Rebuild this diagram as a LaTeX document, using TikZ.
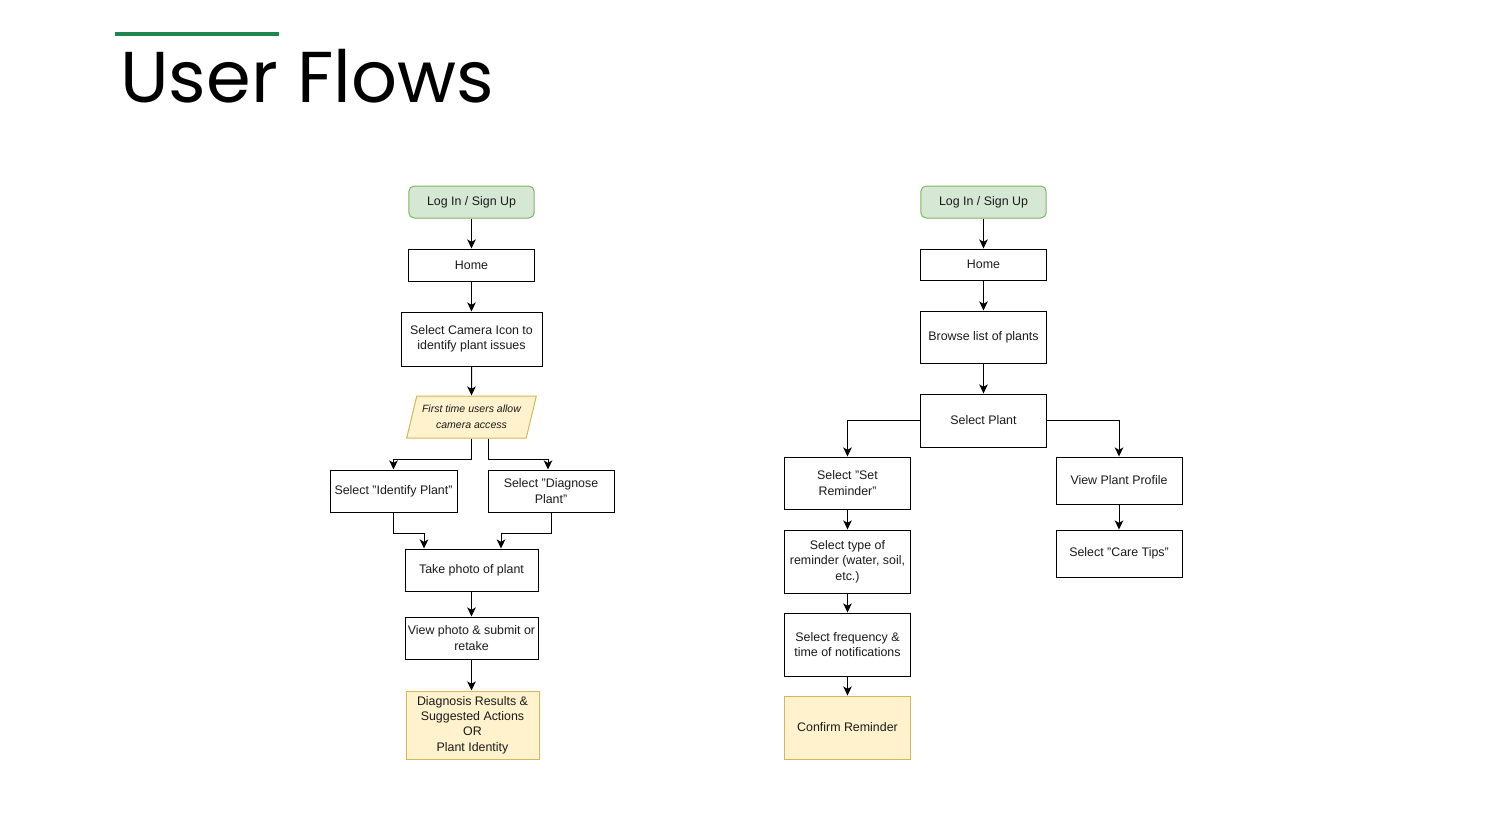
\documentclass[tikz,border=0pt]{standalone}
\usepackage{fontspec}
\setsansfont{Liberation Sans}
\newfontfamily\titlefont{Poppins}
\usetikzlibrary{arrows.meta,positioning,calc,shapes.geometric}
\definecolor{ufgreen}{HTML}{1E874F}
\definecolor{ufstartfill}{HTML}{D5E8D4}
\definecolor{ufstartdraw}{HTML}{82B366}
\definecolor{ufendfill}{HTML}{FFF2CC}
\definecolor{ufenddraw}{HTML}{D6B656}
\definecolor{uftext}{HTML}{1A1A1A}

\begin{document}
\begin{tikzpicture}[
    x=0.75pt, y=-0.75pt,
    font=\sffamily\fontsize{9.3pt}{11.6pt}\selectfont,
    >=Stealth,
    stepbox/.style={
        draw=black,
        fill=white,
        text=uftext,
        minimum width=94pt,
        minimum height=24pt,
        inner sep=1pt,
        align=center,
        line width=0.75pt
    },
    start/.style={
        stepbox,
        draw=ufstartdraw,
        fill=ufstartfill,
        rounded corners=4pt
    },
    finish/.style={
        stepbox,
        draw=ufenddraw,
        fill=ufendfill
    },
    permission/.style={
        trapezium,
        trapezium left angle=69,
        trapezium right angle=111,
        trapezium stretches=true,
        draw=ufenddraw,
        fill=ufendfill,
        text=uftext,
        minimum width=98pt,
        minimum height=31.5pt,
        inner sep=0pt,
        align=center,
        line width=0.75pt,
        font=\sffamily\itshape\fontsize{7.9pt}{12pt}\selectfont
    },
    flow/.style={-{Stealth[length=6.8pt,width=6.4pt,inset=1.8pt]},line width=0.75pt,black}
]
\useasboundingbox (0,0) rectangle (1512,833);

% Title
\draw[ufgreen,line width=2.4pt] (115,34) -- (279,34);
\node[anchor=base west,inner sep=0pt,font=\titlefont\fontsize{54pt}{60pt}\selectfont]
    (title) at (120,102) {User Flows};

% Left flow: identify or diagnose a plant
\node[start] (loginL) at (471.5,202) {Log In / Sign Up};
\node[stepbox] (homeL) at (471.5,265) {Home};
\node[stepbox,minimum width=105.75pt,minimum height=40.5pt] (camera) at (471.5,339)
    {Select Camera Icon to\\identify plant issues};
\node[permission] (access) at (471.5,417) {First time users allow\\camera access};
\node[stepbox,minimum width=95.25pt,minimum height=31.5pt] (identify) at (393.5,491)
    {Select "Identify Plant"};
\node[stepbox,minimum width=94.5pt,minimum height=31.5pt] (diagnose) at (551,491)
    {Select "Diagnose\\Plant"};
\node[stepbox,minimum width=99.75pt,minimum height=31.5pt] (photo) at (471.5,570)
    {Take photo of plant};
\node[stepbox,minimum width=99.75pt,minimum height=31.5pt] (review) at (471.5,638)
    {View photo \& submit or\\retake};
\node[finish,minimum width=99.75pt,minimum height=51pt] (result) at (472.5,725)
    {Diagnosis Results \&\\Suggested Actions\\OR\\Plant Identity};

\draw[flow] (loginL) -- (homeL);
\draw[flow] (homeL) -- (camera);
\draw[flow] (camera) -- (access);
\draw[flow] (access.south) -- ++(0,21) -| (identify.north);
\draw[flow] ($(access.south)+(17,0)$) -- ++(0,21) -| ($(diagnose.north)+(-3,0)$);
\draw[flow] (identify.south) -- ++(0,21) -| ($(photo.north)+(-47.5,0)$);
\draw[flow] (diagnose.south) -- ++(0,21) -| ($(photo.north)+(29.5,0)$);
\draw[flow] (photo) -- (review);
\draw[flow] (review.south) -- (review.south |- result.north);

% Right flow: browse plants, reminders and care tips
\node[start] (loginR) at (983.5,202) {Log In / Sign Up};
\node[stepbox,minimum height=23.25pt] (homeR) at (983.5,264.5) {Home};
\node[stepbox,minimum height=39pt] (browse) at (983.5,337) {Browse list of plants};
\node[stepbox,minimum height=39.75pt] (plant) at (983.5,420.5) {Select Plant};
\node[stepbox,minimum height=39pt] (reminder) at (847.5,483) {Select "Set\\Reminder"};
\node[stepbox,minimum height=47.25pt] (remtype) at (847.5,561.5)
    {Select type of\\reminder (water, soil,\\etc.)};
\node[stepbox,minimum height=47.25pt] (freq) at (847.5,644.5)
    {Select frequency \&\\time of notifications};
\node[finish,minimum width=94pt,minimum height=47.25pt] (confirm) at (847.5,727.5)
    {Confirm Reminder};
\node[stepbox,minimum width=94.5pt,minimum height=35.25pt] (profile) at (1119,480.5)
    {View Plant Profile};
\node[stepbox,minimum width=94.5pt,minimum height=35.25pt] (caretips) at (1119,553.5)
    {Select "Care Tips"};

\draw[flow] (loginR) -- (homeR);
\draw[flow] (homeR) -- (browse);
\draw[flow] (browse) -- (plant);
\draw[flow] (plant.west) -| (reminder.north);
\draw[flow] (plant.east) -| (profile.north);
\draw[flow] (reminder) -- (remtype);
\draw[flow] (remtype) -- (freq);
\draw[flow] (freq) -- (confirm);
\draw[flow] (profile) -- (caretips);

\end{tikzpicture}
\end{document}
